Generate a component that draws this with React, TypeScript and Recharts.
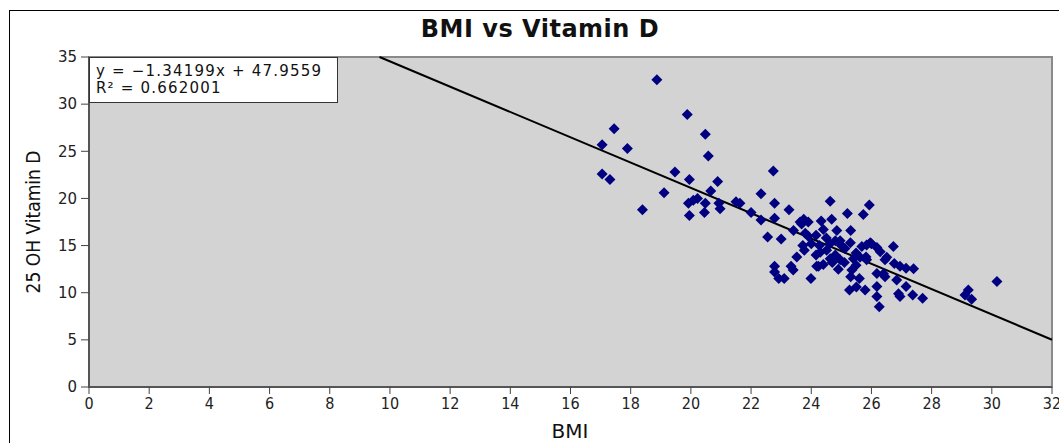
import React from "react";
import {
  ScatterChart,
  Scatter,
  XAxis,
  YAxis,
  ReferenceArea,
  ReferenceLine,
} from "recharts";

// BMI (x) and 25 OH Vitamin D (y)
const bmi = [
  18.87, 19.88, 17.45, 20.48, 17.05, 17.89, 20.58, 19.47, 17.05, 17.31,
  19.95, 20.89, 19.11, 20.66, 20.22, 20.08, 19.92, 20.48, 20.93, 21.5,
  21.63, 18.39, 19.95, 20.45, 20.97, 22.74, 22.33, 22.78, 22.0, 22.33,
  22.78, 22.55, 23.0, 23.72, 23.77, 23.52, 23.33, 22.78, 22.78, 22.92,
  23.1, 23.99, 24.18, 23.41, 23.63, 23.9, 23.26, 24.63, 23.75, 24.33,
  24.68, 25.2, 25.73, 25.93, 23.8, 24.16, 24.4, 24.85, 25.31, 24.27,
  24.62, 24.96, 25.12, 24.51, 25.68, 25.82, 24.16, 24.63, 24.96, 25.4,
  25.49, 24.24, 24.4, 25.31, 25.27, 25.5, 25.79, 26.73, 25.96, 26.18,
  26.29, 26.51, 26.76, 26.95, 27.15, 27.4, 25.49, 25.62, 25.84, 25.35,
  26.18, 26.45, 26.84, 26.18, 27.15, 26.18, 26.95, 27.37, 27.7, 26.26,
  23.4, 30.17, 29.22, 29.11, 29.33, 26.45, 26.0, 25.84, 26.4, 23.68,
  24.0, 24.3, 24.8, 25.0, 24.5, 25.1, 24.9, 25.6, 23.9, 24.7,
  25.3, 24.8, 26.9,
];
const vitD = [
  32.6, 28.9, 27.4, 26.8, 25.7, 25.3, 24.5, 22.8, 22.6, 22.0,
  22.0, 21.8, 20.6, 20.8, 20.0, 19.8, 19.5, 19.5, 19.5, 19.65,
  19.5, 18.8, 18.2, 18.5, 18.9, 22.9, 20.5, 19.5, 18.5, 17.7,
  17.9, 15.9, 15.7, 15.0, 14.5, 13.8, 12.8, 12.8, 12.2, 11.5,
  11.5, 11.5, 12.8, 16.6, 17.5, 17.5, 18.8, 19.7, 17.8, 17.6,
  17.8, 18.4, 18.3, 19.3, 16.3, 16.1, 16.7, 16.6, 16.6, 15.0,
  15.2, 15.5, 14.7, 14.5, 14.9, 13.8, 14.0, 13.6, 13.5, 13.6,
  12.9, 12.8, 13.0, 11.7, 10.3, 10.6, 10.3, 14.9, 15.3, 14.8,
  14.35, 13.75, 13.1, 12.8, 12.6, 12.55, 14.2, 13.75, 13.5, 12.4,
  12.05, 11.7, 11.35, 10.65, 10.65, 9.6, 9.6, 9.75, 9.4, 8.5,
  12.4, 11.2, 10.3, 9.75, 9.3, 13.5, 15.2, 15.05, 12.0, 17.3,
  15.2, 14.3, 14.0, 15.0, 15.8, 13.2, 12.5, 11.5, 16.0, 13.2,
  15.3, 15.5, 9.9,
];

const xTicks = [0, 2, 4, 6, 8, 10, 12, 14, 16, 18, 20, 22, 24, 26, 28, 30, 32];
const yTicks = [0, 5, 10, 15, 20, 25, 30, 35];

// trend line from the reference
const slope = -1.34199;
const intercept = 47.9559;
const xMax = 32;
const yMax = 35;

const points = bmi.map((b, i) => ({ bmi: b, vitD: vitD[i] }));

const Diamond = (props: any) => {
  const { cx, cy } = props;
  const r = 5.5;
  return (
    <polygon
      points={`${cx},${cy - r} ${cx + r},${cy} ${cx},${cy + r} ${cx - r},${cy}`}
      fill="#000080"
    />
  );
};

const condensed =
  "'DejaVu Sans Condensed', 'Liberation Sans Narrow', 'DejaVu Sans', sans-serif";

export default function App() {
  const lineStart = { x: (yMax - intercept) / slope, y: yMax };
  const lineEnd = { x: xMax, y: slope * xMax + intercept };

  return (
    <div
      style={{
        position: "absolute",
        left: 0,
        top: 0,
        width: 1059,
        height: 443,
        background: "#fff",
        overflow: "hidden",
        fontFamily: "'DejaVu Sans', sans-serif",
      }}
    >
      <div
        style={{
          position: "absolute",
          left: 9,
          top: 10,
          width: 1100,
          height: 500,
          border: "1px solid #000",
        }}
      />
      <div
        style={{
          position: "absolute",
          left: 0,
          width: 1080,
          top: 15,
          textAlign: "center",
          fontWeight: "bold",
          fontSize: 24,
          letterSpacing: 0.5,
          color: "#111",
        }}
      >
        BMI vs Vitamin D
      </div>
      <ScatterChart
        width={1059}
        height={443}
        margin={{ top: 57, right: 7, bottom: 26, left: 49 }}
        style={{ position: "absolute", left: 0, top: 0 }}
      >
        <XAxis
          type="number"
          dataKey="bmi"
          domain={[0, xMax]}
          ticks={xTicks}
          interval={0}
          height={30}
          axisLine={{ stroke: "#555", strokeWidth: 2 }}
          tickLine={{ stroke: "#444" }}
          tickSize={7}
          tickMargin={4}
          tick={{ fontSize: 16, fill: "#222", fontFamily: condensed }}
          allowDataOverflow
        />
        <YAxis
          type="number"
          dataKey="vitD"
          domain={[0, yMax]}
          ticks={yTicks}
          interval={0}
          width={40}
          axisLine={{ stroke: "#555", strokeWidth: 2 }}
          tickLine={{ stroke: "#444" }}
          tickSize={8}
          tickMargin={4}
          tick={{ fontSize: 15, fill: "#222" }}
          allowDataOverflow
        />
        <ReferenceArea
          x1={0}
          x2={xMax}
          y1={0}
          y2={yMax}
          fill="#d3d3d3"
          fillOpacity={1}
          stroke="#8a8a8a"
          strokeWidth={2}
        />
        <Scatter
          data={points}
          shape={<Diamond />}
          isAnimationActive={false}
        />
        <ReferenceLine
          segment={[lineStart, lineEnd]}
          stroke="#000"
          strokeWidth={2}
          ifOverflow="extendDomain"
        />
      </ScatterChart>
      <div
        style={{
          position: "absolute",
          left: 89,
          top: 57,
          width: 249,
          height: 46,
          background: "#fff",
          border: "1px solid #333",
          fontSize: 15,
          letterSpacing: 1.2,
          lineHeight: "17px",
          color: "#111",
          padding: "5px 0 0 6px",
          boxSizing: "border-box",
          whiteSpace: "nowrap",
        }}
      >
        <div>y = −1.34199x + 47.9559</div>
        <div>R² = 0.662001</div>
      </div>
      <div
        style={{
          position: "absolute",
          left: 470,
          width: 200,
          top: 419,
          textAlign: "center",
          fontSize: 20,
          color: "#111",
        }}
      >
        BMI
      </div>
      <div
        style={{
          position: "absolute",
          left: 33 - 100,
          top: 222 - 12,
          width: 200,
          height: 24,
          lineHeight: "24px",
          textAlign: "center",
          fontSize: 19,
          fontFamily: condensed,
          color: "#111",
          transform: "rotate(-90deg)",
        }}
      >
        25 OH Vitamin D
      </div>
    </div>
  );
}
